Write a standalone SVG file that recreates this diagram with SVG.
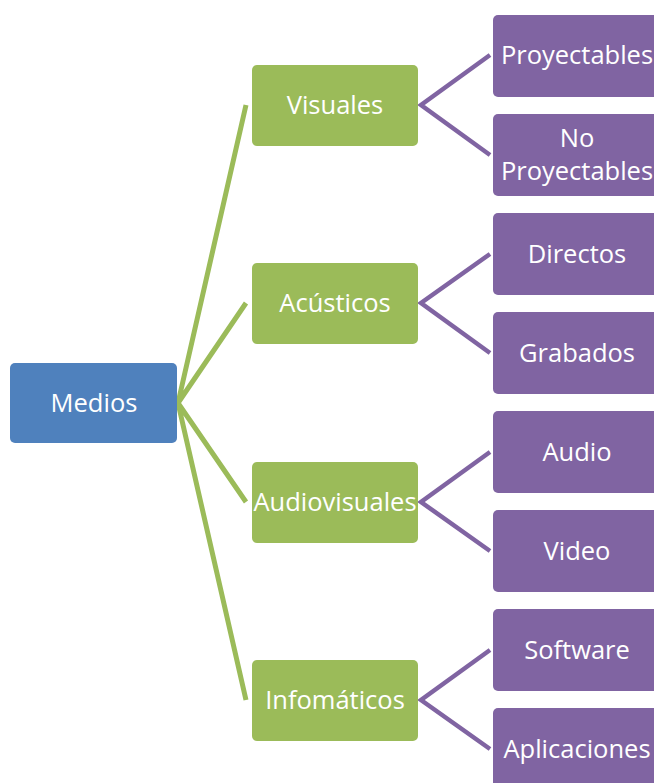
<svg xmlns="http://www.w3.org/2000/svg" width="654" height="783" viewBox="0 0 654 783">
<style>
.t{font-family:"Open Sans","Noto Sans",sans-serif;font-size:25.5px;fill:#fff;text-anchor:middle;dominant-baseline:central}
.b{fill:#4F81BD}
.g{fill:#9BBB59}
.p{fill:#8064A2}
.cg{stroke:#9BBB59;stroke-width:5;fill:none}
.cp{stroke:#8064A2;stroke-width:4.5;fill:none}
</style>
<rect width="654" height="783" fill="#fff"/>
<g id="connectors">
<path class="cg" d="M246,105 L178,403 L246,303 M246,502 L178,403 L246,700"/>
<path class="cp" d="M490,55 L421,105 L490,155"/>
<path class="cp" d="M490,254 L421,303 L490,353"/>
<path class="cp" d="M490,452 L421,502 L490,551"/>
<path class="cp" d="M490,650 L421,700 L490,749"/>
</g>
<g id="medios"><rect class="b" x="10" y="363" width="167" height="80" rx="5"/><text class="t" x="94" y="401.5">Medios</text></g>
<g id="visuales"><rect class="g" x="252" y="65" width="166" height="81" rx="5"/><text class="t" x="335" y="103.5">Visuales</text></g>
<g id="acusticos"><rect class="g" x="252" y="263" width="166" height="81" rx="5"/><text class="t" x="335" y="301.5">Acústicos</text></g>
<g id="audiovisuales"><rect class="g" x="252" y="462" width="166" height="81" rx="5"/><text class="t" x="335" y="500.5">Audiovisuales</text></g>
<g id="infomaticos"><rect class="g" x="252" y="660" width="166" height="81" rx="5"/><text class="t" x="335" y="698.5">Infomáticos</text></g>
<g id="proyectables"><rect class="p" x="493" y="15" width="172" height="82" rx="5"/><text class="t" x="577" y="53.5">Proyectables</text></g>
<g id="noproyectables"><rect class="p" x="493" y="114" width="172" height="82" rx="5"/><text class="t" x="577" y="136.5">No</text><text class="t" x="577" y="169.5">Proyectables</text></g>
<g id="directos"><rect class="p" x="493" y="213" width="172" height="82" rx="5"/><text class="t" x="577" y="252.5">Directos</text></g>
<g id="grabados"><rect class="p" x="493" y="312" width="172" height="82" rx="5"/><text class="t" x="577" y="351.5">Grabados</text></g>
<g id="audio"><rect class="p" x="493" y="411" width="172" height="82" rx="5"/><text class="t" x="577" y="450.5">Audio</text></g>
<g id="video"><rect class="p" x="493" y="510" width="172" height="82" rx="5"/><text class="t" x="577" y="549.5">Video</text></g>
<g id="software"><rect class="p" x="493" y="609" width="172" height="82" rx="5"/><text class="t" x="577" y="648.5">Software</text></g>
<g id="aplicaciones"><rect class="p" x="493" y="708" width="172" height="82" rx="5"/><text class="t" x="577" y="747.5">Aplicaciones</text></g>
</svg>
